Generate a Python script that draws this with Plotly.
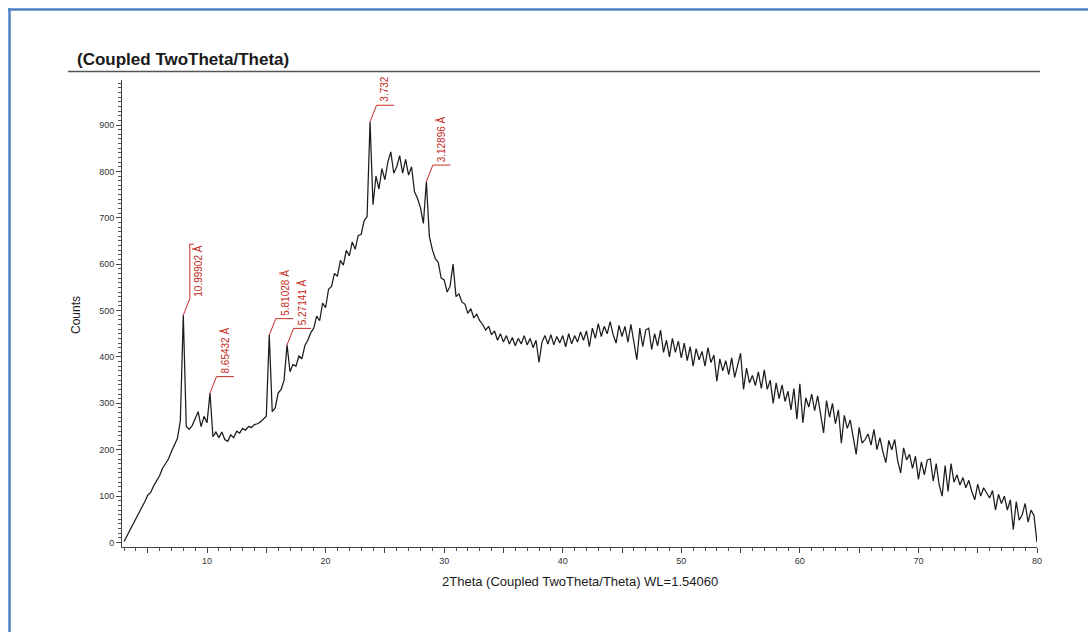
import numpy as np
import plotly.graph_objects as go

# ---------------- data ----------------
two_theta = np.round(np.arange(3.0, 80.001, 0.25), 2)

counts = [
    2, 14, 28, 40, 50, 63, 76, 88,            # 3.0 - 4.75
    102, 108, 122, 132, 144, 160, 170, 180,    # 5.0 - 6.75
    196, 210, 224, 262, 490, 250, 244, 252,    # 7.0 - 8.75
    268, 282, 250, 272, 258, 322, 228, 238,    # 9.0 - 10.75
    226, 238, 222, 218, 232, 226, 240, 236,    # 11.0 - 12.75
    246, 242, 250, 248, 254, 256, 260, 266,    # 13.0 - 14.75
    272, 447, 282, 290, 322, 330, 350, 426,    # 15.0 - 16.75
    368, 384, 380, 402, 396, 424, 436, 452,    # 17.0 - 18.75
    462, 488, 478, 516, 506, 546, 552, 580,    # 19.0 - 20.75
    574, 608, 598, 630, 618, 648, 632, 662,    # 21.0 - 22.75
    664, 694, 702, 907, 728, 790, 762, 806,    # 23.0 - 24.75
    782, 820, 842, 796, 810, 834, 796, 826,    # 25.0 - 26.75
    792, 810, 756, 742, 722, 688, 778, 660,    # 27.0 - 28.75
    632, 612, 604, 570, 566, 540, 552, 600,    # 29.0 - 30.75
    530, 536, 518, 514, 494, 504, 484, 492,    # 31.0 - 32.75
    478, 470, 458, 466, 448, 456, 436, 450,    # 33.0 - 34.75
    432, 446, 428, 442, 424, 440, 428, 446,    # 35.0 - 36.75
    426, 440, 420, 436, 388, 432, 446, 428,    # 37.0 - 38.75
    448, 426, 444, 430, 446, 422, 450, 428,    # 39.0 - 40.75
    446, 432, 454, 436, 456, 422, 462, 440,    # 41.0 - 42.75
    472, 444, 466, 450, 476, 448, 430, 468,    # 43.0 - 44.75
    444, 466, 432, 470, 428, 394, 462, 422,    # 45.0 - 46.75
    458, 462, 416, 450, 424, 458, 410, 436,    # 47.0 - 48.75
    400, 440, 410, 434, 398, 430, 392, 422,    # 49.0 - 50.75
    380, 418, 394, 412, 380, 420, 388, 404,    # 51.0 - 52.75
    348, 396, 370, 392, 362, 398, 356, 384,    # 53.0 - 54.75
    408, 330, 376, 344, 360, 338, 368, 332,    # 55.0 - 56.75
    372, 330, 350, 300, 344, 310, 340, 304,    # 57.0 - 58.75
    326, 286, 332, 266, 342, 258, 312, 292,    # 59.0 - 60.75
    320, 284, 316, 276, 236, 306, 270, 300,    # 61.0 - 62.75
    256, 286, 214, 274, 246, 264, 222, 190,    # 63.0 - 64.75
    248, 214, 222, 234, 210, 244, 200, 226,    # 65.0 - 66.75
    196, 172, 220, 200, 222, 176, 150, 204,    # 67.0 - 68.75
    178, 190, 160, 186, 136, 174, 146, 178,    # 69.0 - 70.75
    180, 132, 170, 124, 100, 166, 110, 170,    # 71.0 - 72.75
    130, 146, 124, 140, 118, 134, 110, 92,     # 73.0 - 74.75
    126, 100, 118, 108, 96, 112, 70, 104,      # 75.0 - 76.75
    84, 100, 70, 92, 28, 88, 48, 60,           # 77.0 - 78.75
    84, 44, 70, 58, 0,                         # 79.0 - 80.0
]

peak_positions = [8.0, 10.25, 15.25, 16.75, 23.75, 28.5]
peak_labels = ["10.99902 Å", "8.65432 Å", "5.81028 Å", "5.27141 Å", "3.732", "3.12896 Å"]
label_styles = ["stem", "base", "base", "base", "base", "base"]

x_major_ticks = [5, 10, 15, 20, 25, 30, 35, 40, 45, 50, 55, 60, 65, 70, 75, 80]
x_tick_text = ["", "10", "", "20", "", "30", "", "40", "", "50", "", "60", "", "70", "", "80"]
y_major_ticks = [0, 100, 200, 300, 400, 500, 600, 700, 800, 900]

# ---------------- layout geometry ----------------
W, H = 1088, 632
L_M, R_M, T_M, B_M = 122, 51, 80, 85
PW, PH = W - L_M - R_M, H - T_M - B_M
X_RANGE = [2.83, 80.0]
Y_RANGE = [-9.7, 997.0]
PX_X = PW / (X_RANGE[1] - X_RANGE[0])   # px per degree
PX_Y = PH / (Y_RANGE[1] - Y_RANGE[0])   # px per count

def paper_x(px):
    return (px - L_M) / PW

def paper_y(py):
    return (H - B_M - py) / PH

RED = "#c42a22"
FONT = "Liberation Sans, Arial, sans-serif"

fig = go.Figure()
fig.add_trace(go.Scatter(
    x=two_theta, y=counts, mode="lines",
    line=dict(color="#1c1c1c", width=1.25),
    hoverinfo="x+y", showlegend=False,
))

shapes = []
annotations = []

# peak labels with red leader lines
lookup = dict(zip([float(v) for v in two_theta], counts))
for xp, lab, sty in zip(peak_positions, peak_labels, label_styles):
    yp = lookup[float(xp)]
    px_ = xp + 6.5 / PX_X
    py_ = yp + 16.5 / PX_Y
    shapes.append(dict(type="line", xref="x", yref="y", x0=xp, y0=yp, x1=px_, y1=py_,
                       line=dict(color=RED, width=1)))
    tlen = len(lab) * 5.25
    if sty == "stem":
        top = py_ + (tlen + 2) / PX_Y
        shapes.append(dict(type="line", xref="x", yref="y", x0=px_, y0=py_, x1=px_, y1=top,
                           line=dict(color=RED, width=1)))
        shapes.append(dict(type="line", xref="x", yref="y", x0=px_, y0=top, x1=px_ + 4 / PX_X, y1=top,
                           line=dict(color=RED, width=1)))
        cx = px_ + 8.5 / PX_X
        cy = py_ + (1 + tlen / 2) / PX_Y
    else:
        shapes.append(dict(type="line", xref="x", yref="y", x0=px_, y0=py_, x1=px_ + 17.5 / PX_X, y1=py_,
                           line=dict(color=RED, width=1)))
        cx = px_ + 8.5 / PX_X
        cy = py_ + (2.5 + tlen / 2) / PX_Y
    annotations.append(dict(x=cx, y=cy, xref="x", yref="y", text=lab, showarrow=False,
                            textangle=-90, xanchor="center", yanchor="middle",
                            font=dict(family=FONT, size=10, color=RED)))

# title + underline
annotations.append(dict(x=paper_x(75), y=paper_y(60), xref="paper", yref="paper",
                        text="<b>(Coupled TwoTheta/Theta)</b>", showarrow=False,
                        xanchor="left", yanchor="middle",
                        font=dict(family=FONT, size=17, color="#1a1a1a")))
shapes.append(dict(type="line", xref="paper", yref="paper",
                   x0=paper_x(68), x1=paper_x(1040), y0=paper_y(71.5), y1=paper_y(71.5),
                   line=dict(color="#555555", width=1.5)))

# axis titles
annotations.append(dict(x=paper_x(580), y=paper_y(581), xref="paper", yref="paper",
                        text="2Theta (Coupled TwoTheta/Theta) WL=1.54060", showarrow=False,
                        xanchor="center", yanchor="middle",
                        font=dict(family=FONT, size=13, color="#1a1a1a")))
annotations.append(dict(x=paper_x(76), y=paper_y(315), xref="paper", yref="paper",
                        text="Counts", showarrow=False, textangle=-90,
                        xanchor="center", yanchor="middle",
                        font=dict(family=FONT, size=12, color="#1a1a1a")))

# blue page frame (top and left)
BLUE = "#4f81c2"
shapes.append(dict(type="line", xref="paper", yref="paper",
                   x0=paper_x(8), x1=paper_x(W + 5), y0=paper_y(9.5), y1=paper_y(9.5),
                   line=dict(color=BLUE, width=2.5)))
shapes.append(dict(type="line", xref="paper", yref="paper",
                   x0=paper_x(9.5), x1=paper_x(9.5), y0=paper_y(8.5), y1=paper_y(H + 5),
                   line=dict(color=BLUE, width=2.5)))

fig.update_layout(
    width=W, height=H,
    margin=dict(l=L_M, r=R_M, t=T_M, b=B_M),
    paper_bgcolor="white", plot_bgcolor="white",
    shapes=shapes, annotations=annotations,
    showlegend=False,
    font=dict(family=FONT, size=9, color="#333333"),
)
fig.update_xaxes(
    range=X_RANGE, showgrid=False, zeroline=False,
    showline=True, linecolor="#444444", linewidth=1,
    tickmode="array", tickvals=x_major_ticks, ticktext=x_tick_text,
    ticks="outside", ticklen=5, tickcolor="#444444", tickwidth=1,
    tickfont=dict(family=FONT, size=9, color="#333333"),
    minor=dict(dtick=1, ticks="outside", ticklen=3, tickcolor="#555555", tickwidth=1, showgrid=False),
)
fig.update_yaxes(
    range=Y_RANGE, showgrid=False, zeroline=False,
    showline=True, linecolor="#444444", linewidth=1,
    tickmode="array", tickvals=y_major_ticks,
    ticks="outside", ticklen=5, tickcolor="#444444", tickwidth=1,
    tickfont=dict(family=FONT, size=9, color="#333333"),
    minor=dict(dtick=10, tick0=0, ticks="outside", ticklen=3, tickcolor="#555555", tickwidth=1, showgrid=False),
)

fig.write_html("out.html")
